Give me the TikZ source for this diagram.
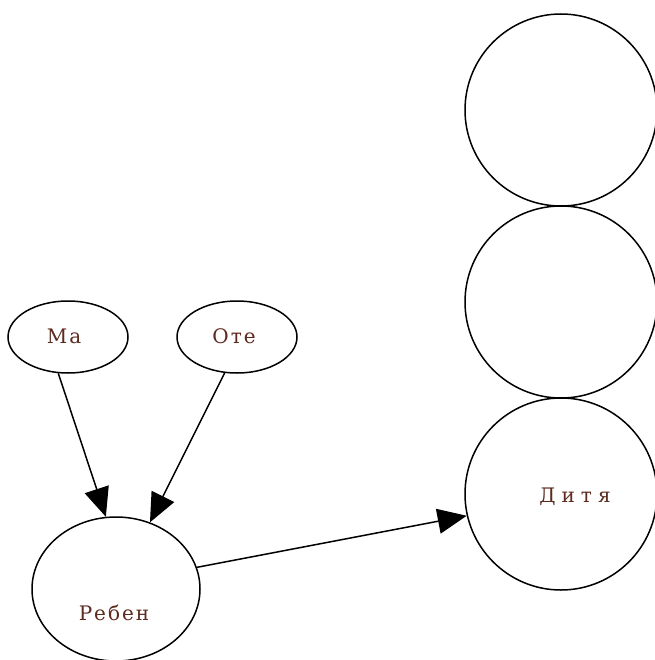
\documentclass[tikz,border=0pt]{standalone}
\usepackage{fontspec}
\setmainfont[LetterSpace=10]{DejaVu Serif}
\usetikzlibrary{arrows.meta,shapes.geometric}
\definecolor{txt}{RGB}{92,42,30}
\tikzset{
  lbl/.style={text=txt,font=\fontsize{20}{22}\selectfont},
  oval/.style={draw,ellipse,line width=1.5pt,inner sep=0pt},
  ring/.style={draw,circle,line width=1.5pt,inner sep=0pt,minimum size=192pt},
  link/.style={line width=1.5pt,-{Triangle[length=29pt,width=25pt]}}
}
\begin{document}
\begin{tikzpicture}[x=1pt,y=-1pt]
\useasboundingbox (0,0) rectangle (654,660);
\node[oval,minimum width=120pt,minimum height=72pt] (ma) at (68,337) {};
\node[lbl] (tma) at (64,336) {Ма};
\node[oval,minimum width=120pt,minimum height=72pt] (ote) at (237,337) {};
\node[lbl] (tote) at (234,336) {Оте};
\node[oval,minimum width=168pt,minimum height=144pt] (reb) at (116,589) {};
\node[lbl] (treb) at (114,613) {Ребен};
\node[ring] (c1) at (561,110) {};
\node[ring] (c2) at (561,302) {};
\node[ring] (dit) at (561,494) {};
\node[lbl] (tdit) at (575,497) {\addfontfeatures{LetterSpace=30}Дитя};
\draw[link] (ma.-105) -- (reb.98);
\draw[link] (ote.-109) -- (reb.63);
\draw[link] (reb.15) -- (dit.193);
\end{tikzpicture}
\end{document}
